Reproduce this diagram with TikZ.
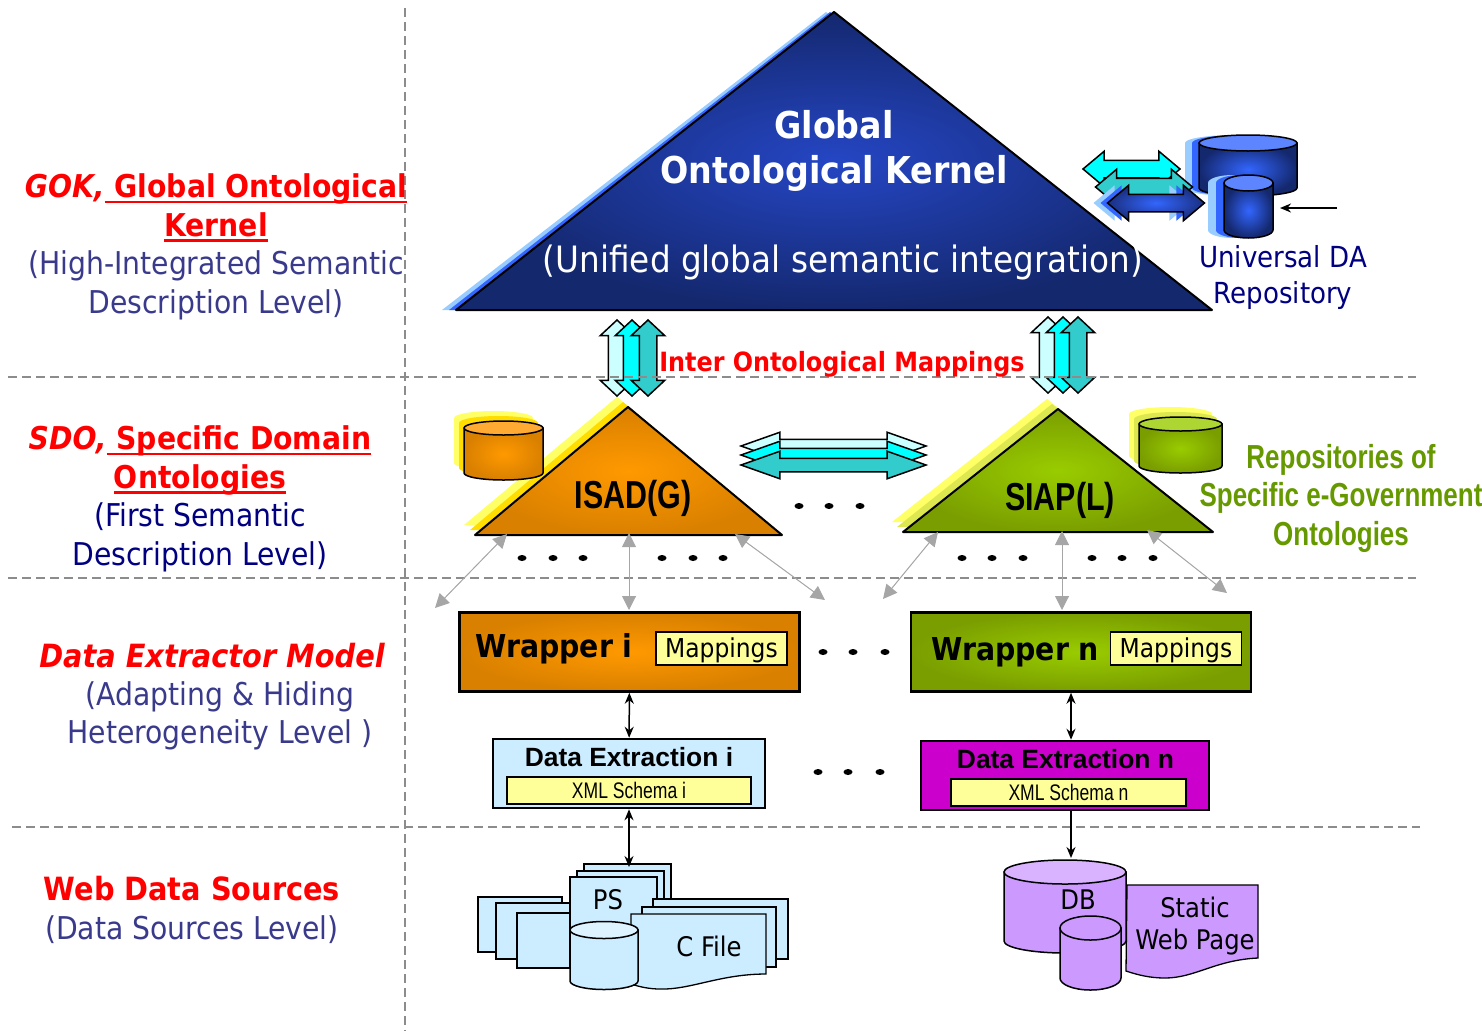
\documentclass[tikz,border=0pt]{standalone}
\usepackage{fontspec}
\usetikzlibrary{arrows.meta,shapes.arrows}
\setmainfont{DejaVu Sans Condensed}
\newfontfamily\arialfont{Liberation Sans}
\newfontfamily\narrowfont[FakeStretch=0.78]{Liberation Sans}
\newcommand{\fatunder}[1]{\setbox0=\hbox{#1}\rlap{\rule[-5.2pt]{\wd0}{2.2pt}}\box0}
\definecolor{slatetext}{HTML}{3A3A8C}
\definecolor{navytext}{HTML}{000080}
\definecolor{olivetext}{HTML}{669900}
\definecolor{blueshadow}{HTML}{99CCFF}
\definecolor{bluemid}{HTML}{3366FF}
\definecolor{bluecore}{HTML}{2546C4}
\definecolor{blueedge}{HTML}{14286E}
\definecolor{blueedgeb}{HTML}{1A2F80}
\definecolor{bluetop}{HTML}{5C85FF}
\definecolor{paleyellow}{HTML}{FFFF66}
\definecolor{goldyellow}{HTML}{FFDD00}
\definecolor{limeyellow}{HTML}{DDE850}
\definecolor{orangecore}{HTML}{FF9900}
\definecolor{orangeedge}{HTML}{D98000}
\definecolor{orangetop}{HTML}{FFAA33}
\definecolor{greencore}{HTML}{99CC00}
\definecolor{greenedge}{HTML}{7A9E00}
\definecolor{greentop}{HTML}{ADD633}
\definecolor{paletealcyan}{HTML}{CCFFFF}
\definecolor{tealcyan}{HTML}{33CCCC}
\definecolor{boxyellow}{HTML}{FFFF99}
\definecolor{paperblue}{HTML}{CCECFF}
\definecolor{papertop}{HTML}{DDF3FF}
\definecolor{magentabox}{HTML}{CC00CC}
\definecolor{lilac}{HTML}{CC99FF}
\definecolor{lilactop}{HTML}{D9B3FF}
\begin{document}
\begin{tikzpicture}
[x=1pt,y=-1pt,
  levelline/.style={draw=black!45,line width=1.5pt,dash pattern=on 9pt off 5pt},%
  blockarrow/.style={double arrow,shade,line width=1.5pt,inner xsep=0pt},%
  sidearrow/.style={blockarrow,minimum height=97pt,minimum width=34pt,inner ysep=8pt,double arrow head extend=9pt,double arrow tip angle=80},%
  uparrow/.style={blockarrow,shape border rotate=90,minimum height=76pt,minimum width=32pt,inner xsep=8pt,inner ysep=0pt,double arrow head extend=8pt,double arrow tip angle=94},%
  crossarrow/.style={blockarrow,minimum height=185pt,minimum width=26pt,inner ysep=6pt,double arrow head extend=7pt,double arrow tip angle=39},%
  mapline/.style={{Triangle[length=14pt,width=14pt]}-{Triangle[length=14pt,width=14pt]},draw=black!35,fill=black!35,line width=1pt},%
  linkline/.style={-{Stealth[length=11pt,width=9pt]},line width=1.5pt},%
  linkboth/.style={{Stealth[length=11pt,width=9pt]}-{Stealth[length=11pt,width=9pt]},line width=1.5pt},%
  wrapbox/.style={shape=rectangle,shade,draw=black,line width=2.5pt,minimum width=340pt,minimum height=79pt,inner sep=0pt},%
  mapbox/.style={shape=rectangle,draw=black,fill=boxyellow,line width=1.3pt,minimum width=131pt,minimum height=33pt,inner sep=0pt,text height=24pt,text depth=6pt,font=\fontsize{26}{28}\selectfont},%
  schemabox/.style={shape=rectangle,draw=black,fill=boxyellow,line width=1.2pt,minimum height=27pt,inner sep=0pt,font=\narrowfont\fontsize{22.5}{24}\selectfont},%
  extbox/.style={shape=rectangle,draw=black,line width=2.5pt,minimum height=69pt,inner sep=0pt},%
  paper/.style={draw=black,fill=paperblue,line width=1.3pt},%
  lilacpaper/.style={draw=black,fill=lilac,line width=1.3pt},%
  levellabel/.style={align=center,font=\fontsize{31.4}{38.5}\selectfont},%
  dotmark/.style={fill=black}]
\useasboundingbox (0,0) rectangle (1482,1031);
%% triangles with their offset shadows
\foreach \xt/\yt/\xl/\xr/\yb/\core/\edge/\rim in {
  826/12/442/1204/310/blueshadow/blueshadow/none,
  830/12/449/1208/310/bluemid/bluemid/none,
  834/12/456/1212/310/bluecore/blueedge/black,
  617/397/464/771/525/paleyellow/paleyellow/none,
  623/402/470/777/530/goldyellow/goldyellow/none,
  628/407/475/782/535/orangecore/orangeedge/black,
  1047/399/892/1202/522/paleyellow/paleyellow/none,
  1052/404/897/1207/527/limeyellow/limeyellow/none,
  1058/409/903/1213/532/greencore/greenedge/black}
{
  \path[shade,inner color=\core,outer color=\edge,draw=\rim,line width=2pt,line join=round]
    (\xt,\yt) -- (\xl,\yb) -- (\xr,\yb) -- cycle;
}
%% repository cans
\foreach \xa/\xb/\ya/\yb/\ry/\core/\edge/\topcol/\rim in {
  454/533/418/463/7/paleyellow/paleyellow/paleyellow/none,
  459/538/423/468/7/goldyellow/goldyellow/goldyellow/none,
  464/543/428/473/7/orangecore/orangeedge/orangetop/black,
  1129/1212/414/456/7/paleyellow/paleyellow/paleyellow/none,
  1134/1217/419/461/7/limeyellow/limeyellow/limeyellow/none,
  1139/1222/424/466/7/greencore/greenedge/greentop/black,
  1185/1283/143/188/8/blueshadow/blueshadow/blueshadow/none,
  1192/1290/143/188/8/bluemid/bluemid/bluemid/none,
  1199/1297/143/188/8/bluemid/blueedge/bluetop/black,
  1208/1257/183/230/8/blueshadow/blueshadow/blueshadow/none,
  1216/1265/183/230/8/bluemid/bluemid/bluemid/none,
  1224/1273/183/230/8/bluemid/blueedge/bluetop/black}
{
  \pgfmathsetmacro{\rx}{(\xb-\xa)/2}
  \path[shade,inner color=\core,outer color=\edge,draw=\rim,line width=1.5pt]
    (\xa,\ya) -- (\xa,\yb) arc[start angle=180,end angle=0,x radius=\rx,y radius=\ry] -- (\xb,\ya) -- cycle;
  \path[fill=\topcol,draw=\rim,line width=1.5pt] (\xa,\ya) arc[start angle=180,end angle=-180,x radius=\rx,y radius=\ry];
}
%% block arrows
\foreach \arrowname/\x/\y/\core/\edge/\rim in {
  unicyan/1131.5/169/cyan/cyan/black,
  uniteal/1144/187/tealcyan/tealcyan/black,
  unishada/1142/203/blueshadow/blueshadow/none,
  unishadb/1149/203/bluemid/bluemid/none,
  uniblue/1156/203/bluemid/blueedgeb/black}
{
  \node[sidearrow,inner color=\core,outer color=\edge,draw=\rim] (\arrowname) at (\x,\y) {};
}
\foreach \arrowname/\x/\y/\core in {
  isadpale/617/358/paletealcyan, isadcyan/632/358/cyan, isadteal/648/358/tealcyan,
  siappale/1048/355/paletealcyan, siapcyan/1063/355/cyan, siapteal/1078/355/tealcyan}
{
  \node[uparrow,inner color=\core,outer color=\core,draw=black] (\arrowname) at (\x,\y) {};
}
\foreach \arrowname/\y/\core in {crosspale/446/paletealcyan, crosscyan/455/cyan, crossteal/465/tealcyan}
{
  \node[crossarrow,inner color=\core,outer color=\core,draw=black] (\arrowname) at (833.5,\y) {};
}
%% level lines
\foreach \startnode/\xa/\ya/\endnode/\xb/\yb in {
  gokstart/8/377/gokend/1416/377, sdostart/8/578/sdoend/1416/578,
  dexstart/12/827/dexend/1420/827, leftstart/405/8/leftend/405/1031}
{
  \coordinate (\startnode) at (\xa,\ya);
  \coordinate (\endnode) at (\xb,\yb);
  \draw[levelline] (\startnode) -- (\endnode);
}
%% wrappers and extraction boxes
\node[wrapbox,inner color=orangecore,outer color=orangeedge] (wrapi) at (629.5,652) {};
\node[wrapbox,inner color=greencore,outer color=greenedge] (wrapn) at (1081,652) {};
\node[mapbox] (mapi) at (721.5,648.5) {Mappings};
\node[mapbox] (mapn) at (1176,648.5) {Mappings};
\node[anchor=west,font=\bfseries\fontsize{31.5}{34}\selectfont] (wrapilabel) at (472,649) {Wrapper i};
\node[anchor=west,font=\bfseries\fontsize{31.5}{34}\selectfont] (wrapnlabel) at (928,652) {Wrapper n};
\node[extbox,fill=paperblue,minimum width=272pt] (exti) at (629,773.5) {};
\node[extbox,fill=magentabox,minimum width=288pt] (extn) at (1065,775.5) {};
\node[schemabox,minimum width=244pt] (schemai) at (629,790.5) {XML Schema i};
\node[schemabox,minimum width=235pt] (scheman) at (1068.5,792.5) {XML Schema n};
\node[font=\arialfont\bfseries\fontsize{26.4}{28}\selectfont] (extilabel) at (629,757) {Data Extraction i};
\node[font=\arialfont\bfseries\fontsize{26.4}{28}\selectfont] (extnlabel) at (1065.5,759) {Data Extraction n};
%% paper stacks
\foreach \xa/\ya/\xb/\yb in {478/897/562/952, 496/903/570/959, 517/913/570/968,
  584/864/671/925, 577/871/664/925, 570/877/657/935,
  653/899/788/959, 642/907/776/967}
{
  \draw[paper] (\xa,\ya) rectangle (\xb,\yb);
}
\draw[paper] (631,914) -- (766,914) -- (766,974) .. controls (720,974) and (690,990) .. (660,989)
  .. controls (650,989) and (640,987) .. (631,984) -- cycle;
\draw[lilacpaper] (1127,885) -- (1258,885) -- (1258,958) .. controls (1215,960) and (1195,978) .. (1165,978)
  .. controls (1150,978) and (1138,975) .. (1126,971) -- cycle;
\foreach \xa/\xb/\ya/\yb/\ry/\bodycol/\topcol in {
  570/638/930/981/8.5/paperblue/papertop,
  1004/1126/872/941/12/lilac/lilactop,
  1060/1121/928/978/12/lilac/lilac}
{
  \pgfmathsetmacro{\rx}{(\xb-\xa)/2}
  \path[fill=\bodycol,draw=black,line width=1.5pt]
    (\xa,\ya) -- (\xa,\yb) arc[start angle=180,end angle=0,x radius=\rx,y radius=\ry] -- (\xb,\ya) -- cycle;
  \path[fill=\topcol,draw=black,line width=1.5pt] (\xa,\ya) arc[start angle=180,end angle=-180,x radius=\rx,y radius=\ry];
}
%% dots
\foreach \x/\y in {522/558, 553/558, 583/558, 662/558, 693/558, 723/558,
  799/506, 829/506, 860/506, 962/558, 992/558, 1023/558, 1092/558, 1122/558, 1153/558,
  823/652, 853/652, 885/652, 818/772, 848/772, 880/772}
{
  \fill[dotmark] (\x,\y) ellipse (4.5 and 3);
}
%% thin grey mappings
\foreach \startnode/\xa/\ya/\endnode/\xb/\yb in {
  ia/507/534/iaend/435/608, ib/629/533/ibend/629/610, ic/735/534/icend/825/600,
  na/938/532/naend/883/599, nb/1062/531/nbend/1062/610, nc/1147/530/ncend/1227/593}
{
  \coordinate (\startnode) at (\xa,\ya);
  \coordinate (\endnode) at (\xb,\yb);
  \draw[mapline] (\startnode) -- (\endnode);
}
%% black links
\coordinate (pstop) at (629,867);
\coordinate (dbtop) at (1071,858);
\coordinate (scanfrom) at (1337,208);
\coordinate (scanto) at (1280,208);
\draw[linkboth] (wrapi) -- (exti);
\draw[linkboth] ([xshift=-10pt]wrapn.south) -- ([xshift=6pt]extn.north);
\draw[linkboth] (exti) -- (pstop);
\draw[linkline] ([xshift=6pt]extn.south) -- (dbtop);
\draw[linkline] (scanfrom) -- (scanto);
%% texts
\node[align=center,text=white,font=\bfseries\fontsize{37}{45}\selectfont] (goktitle) at (834,151) {Global\\Ontological Kernel};
\node[text=white,font=\fontsize{36.3}{40}\selectfont] (goksub) at (843,262) {(Unified global semantic integration)};
\node[text=red,font=\bfseries\fontsize{26.5}{30}\selectfont] (intermap) at (842,364) {Inter Ontological Mappings};
\node[align=center,text=navytext,font=\fontsize{29}{36}\selectfont] (unilabel) at (1283,277) {Universal DA\\Repository};
\node[align=center,text=olivetext,font=\narrowfont\bfseries\fontsize{33.3}{38.5}\selectfont] (speclabel) at (1341,498) {Repositories of\\Specific e-Government\\Ontologies};
\node[font=\narrowfont\bfseries\fontsize{39}{41}\selectfont] (isadlabel) at (633,498) {ISAD(G)};
\node[font=\narrowfont\bfseries\fontsize{39}{41}\selectfont] (siaplabel) at (1060,500) {SIAP(L)};
\node[font=\fontsize{27}{29}\selectfont] (pslabel) at (608,900) {PS};
\node[font=\fontsize{27}{29}\selectfont] (cfilelabel) at (709,946) {C File};
\node[font=\fontsize{27}{29}\selectfont] (dblabel) at (1078,900) {DB};
\node[align=center,font=\fontsize{27}{32}\selectfont] (weblabel) at (1195,926) {Static\\Web Page};
\node[levellabel] (goklabel) at (216,247) {\textcolor{red}{\bfseries{\itshape GOK,}\fatunder{ Global Ontological}}\\
  \textcolor{red}{\bfseries\fatunder{Kernel}}\\
  \textcolor{slatetext}{(High-Integrated Semantic}\\
  \textcolor{slatetext}{Description Level)}};
\node[levellabel] (sdolabel) at (200,499) {\textcolor{red}{\bfseries{\itshape SDO,}\fatunder{ Specific Domain}}\\
  \textcolor{red}{\bfseries\fatunder{Ontologies}}\\
  \textcolor{navytext}{(First Semantic}\\
  \textcolor{navytext}{Description Level)}};
\node[levellabel,text=red,font=\bfseries\itshape\fontsize{32}{38.5}\selectfont] (dextitle) at (212,656) {Data Extractor Model};
\node[levellabel,text=slatetext] (dexlabel) at (220,716) {(Adapting \& Hiding\\Heterogeneity Level )};
\node[levellabel,text=red,font=\bfseries\fontsize{32}{38.5}\selectfont] (webtitle) at (192,889) {Web Data Sources};
\node[levellabel,text=slatetext] (weblevel) at (192,930) {(Data Sources Level)};
\end{tikzpicture}
\end{document}
